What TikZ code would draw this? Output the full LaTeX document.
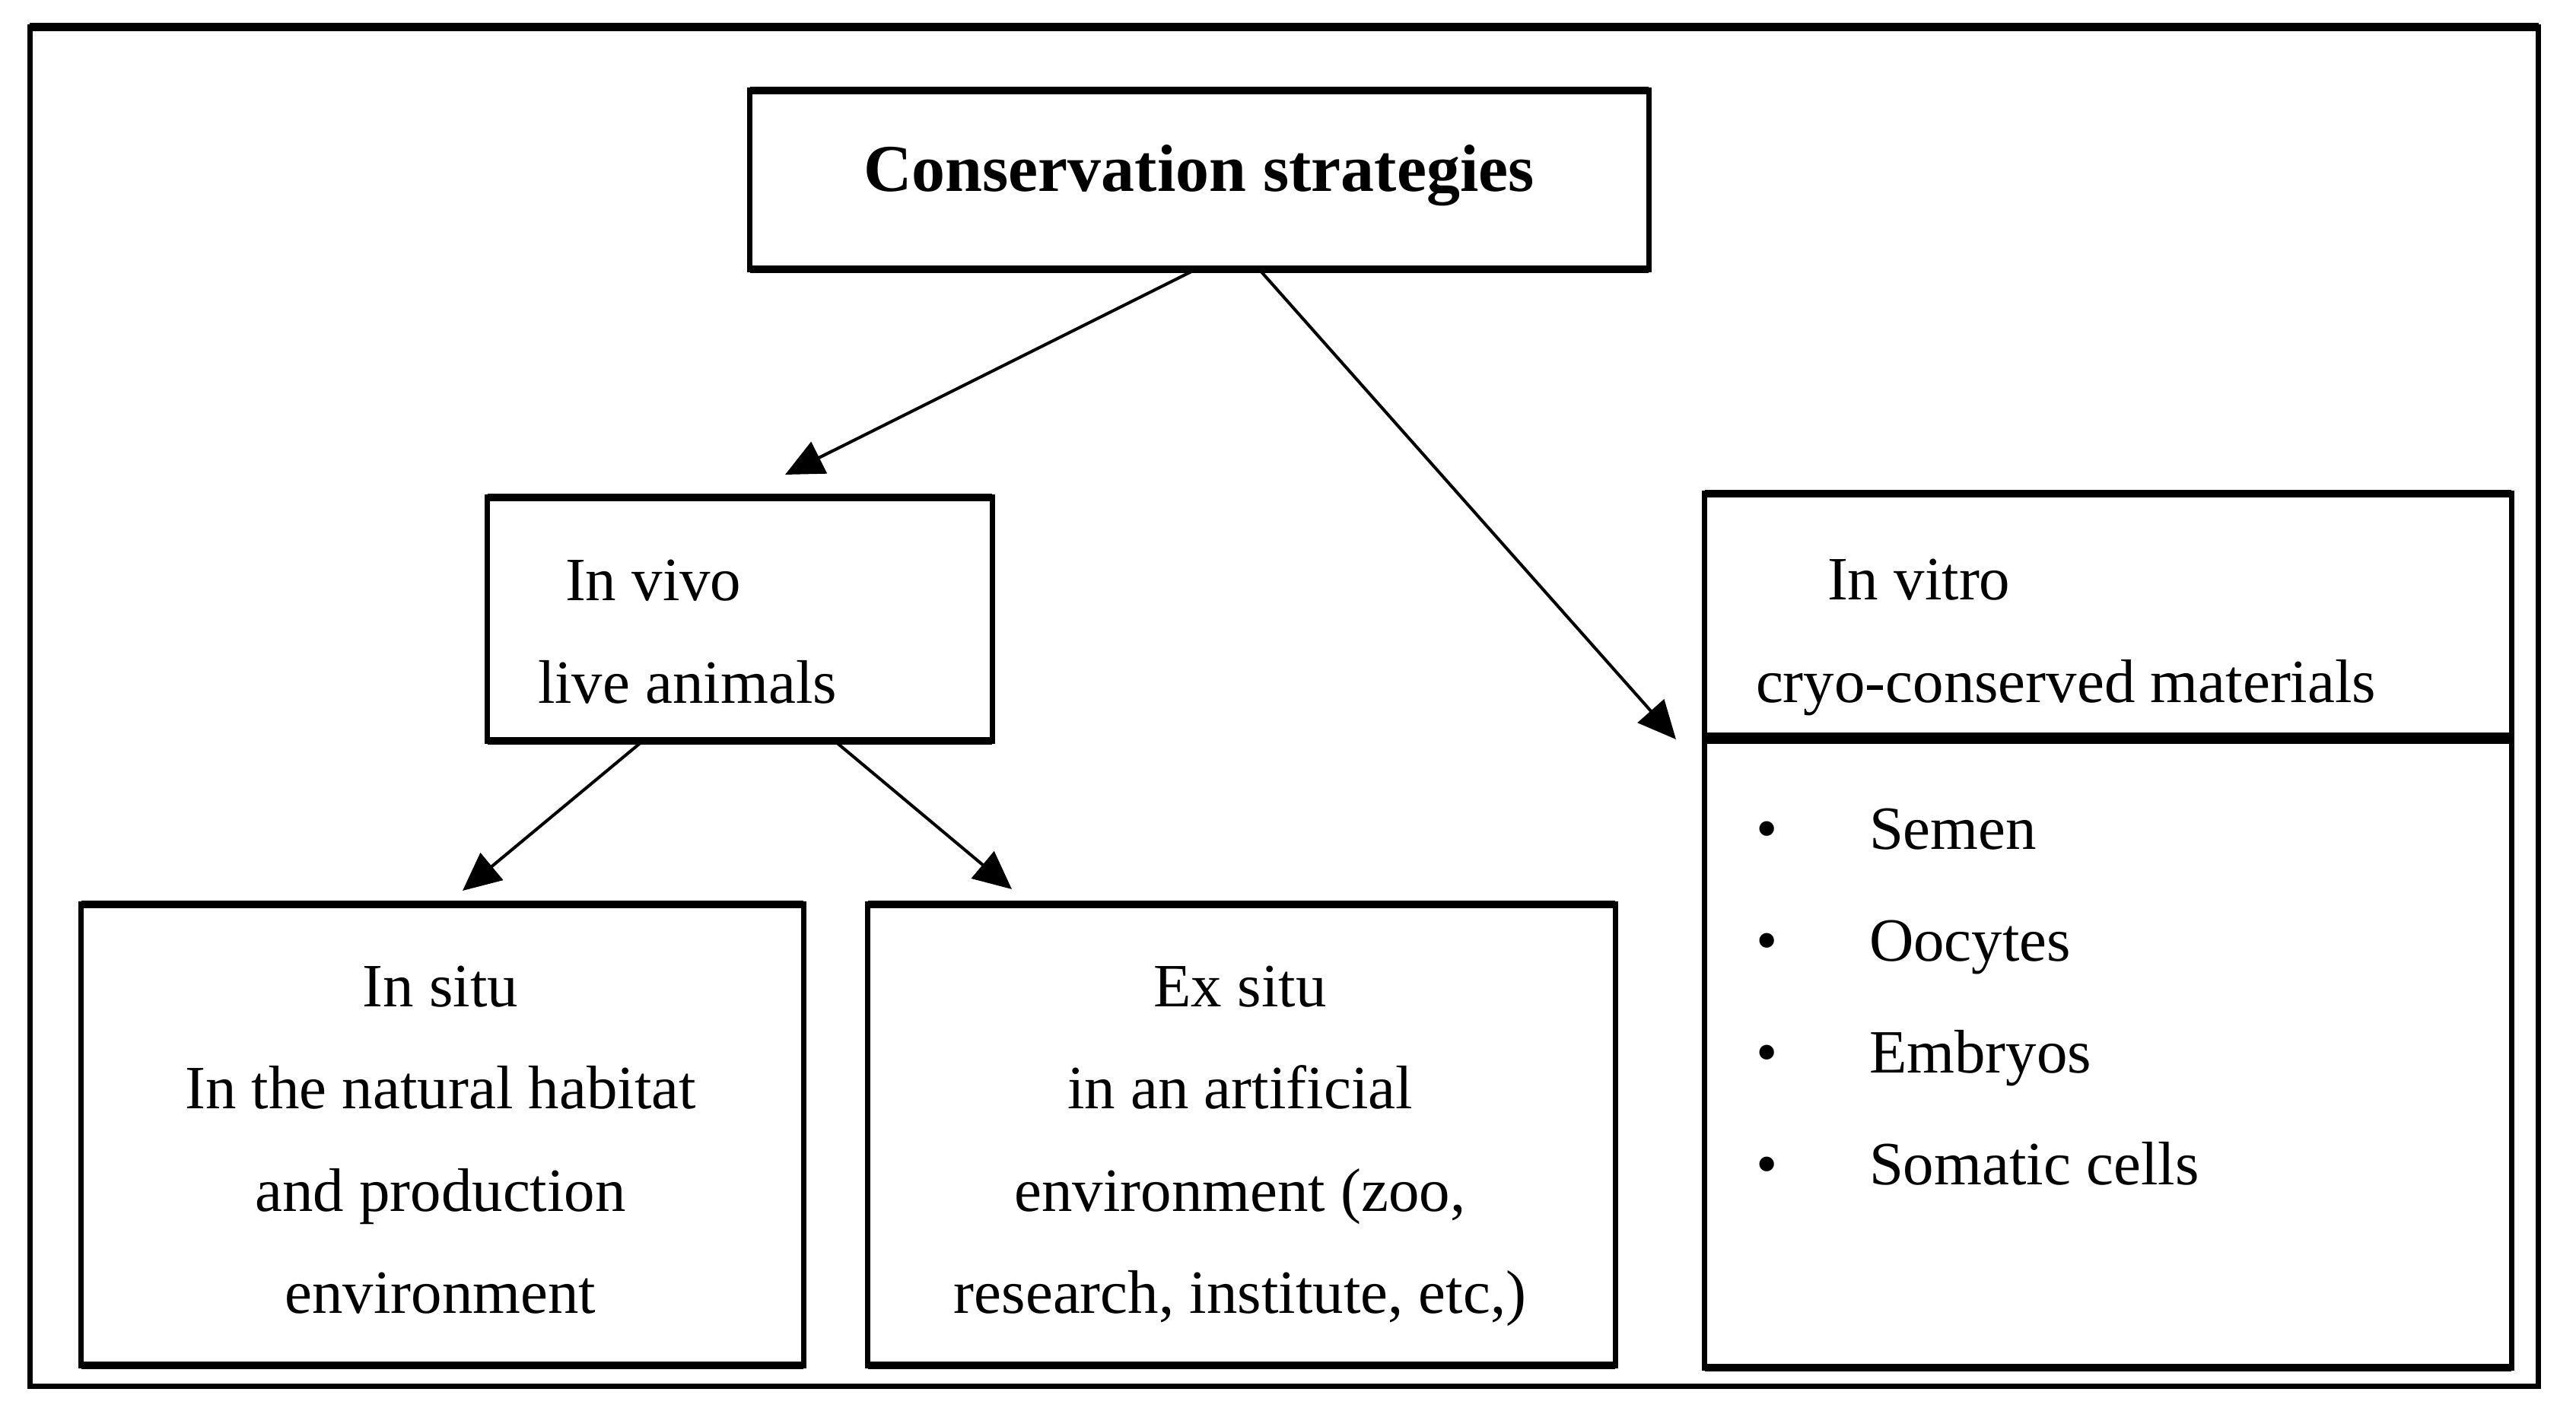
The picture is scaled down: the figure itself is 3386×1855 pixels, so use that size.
\documentclass[tikz,border=0pt]{standalone}
\usepackage{fontspec}
\setmainfont{Liberation Serif}
\usetikzlibrary{arrows.meta}
\begin{document}
\begin{tikzpicture}[x=0.01cm,y=-0.01cm,
  box/.style={draw,line width=2pt,inner sep=0pt,outer sep=0pt,rectangle},
  hedge/.style={line width=2.8pt},
  txt/.style={inner sep=0pt,outer sep=0pt,font=\fontsize{23}{27}\selectfont},
  ttl/.style={inner sep=0pt,outer sep=0pt,font=\fontsize{25}{30}\selectfont\bfseries},
  arr/.style={line width=1.15pt,-{Triangle[length=0.50cm,width=0.46cm]}},
]
\useasboundingbox (0,0) rectangle (3386,1855);
\fill[white] (0,0) rectangle (3386,1855);
% boxes
\node[box,minimum width=32.96cm,minimum height=17.86cm] (frame) at (1688,929) {};
\node[box,minimum width=11.81cm,minimum height=2.35cm] (top) at (1576.5,236.5) {};
\node[box,minimum width=6.63cm,minimum height=3.20cm] (invivo) at (972.5,814) {};
\node[box,minimum width=9.49cm,minimum height=6.06cm] (insitu) at (581.5,1492) {};
\node[box,minimum width=9.82cm,minimum height=6.06cm] (exsitu) at (1632,1492) {};
\node[box,minimum width=10.60cm,minimum height=3.22cm] (invitroA) at (2771,810) {};
\node[box,minimum width=10.60cm,minimum height=8.27cm] (invitroB) at (2771,1384.5) {};
% thicker horizontal edges
\foreach \n in {top,invivo,insitu,exsitu,invitroA,invitroB}{
  \draw[hedge] (\n.north west) -- (\n.north east) (\n.south west) -- (\n.south east);
}
\draw[line width=3pt] (frame.north west) -- (frame.north east);
\draw[line width=4.2pt] (invitroB.north west) -- (invitroB.north east);
% arrow ends
\coordinate (a1) at (1032,624);
\coordinate (a2) at (2203,972);
\coordinate (a3) at (608,1171);
\coordinate (a4) at (1330,1169);
\draw[arr] ([xshift=-0.045cm]top.south) -- (a1);
\draw[arr] ([xshift=0.785cm]top.south) -- (a2);
\draw[arr] ([xshift=-1.275cm]invivo.south) -- (a3);
\draw[arr] ([xshift=1.245cm]invivo.south) -- (a4);
% texts
\node[ttl,anchor=base] (t-title) at (1576,252) {Conservation strategies};
\node[txt,anchor=base west] (t-invivo) at (743,790) {In vivo};
\node[txt,anchor=base west] (t-live) at (707,924) {live animals};
\node[txt,anchor=base west] (t-invitro) at (2402,788) {In vitro};
\node[txt,anchor=base west] (t-cryo) at (2308,923) {cryo-conserved materials};
\node[txt,anchor=base] (b1) at (2323,1116) {•};
\node[txt,anchor=base] (b2) at (2323,1263) {•};
\node[txt,anchor=base] (b3) at (2323,1410) {•};
\node[txt,anchor=base] (b4) at (2323,1557) {•};
\node[txt,anchor=base west] (i1) at (2457,1116) {Semen};
\node[txt,anchor=base west] (i2) at (2457,1263) {Oocytes};
\node[txt,anchor=base west] (i3) at (2457,1410) {Embryos};
\node[txt,anchor=base west] (i4) at (2457,1557) {Somatic cells};
\node[txt,anchor=base] (s1) at (579,1323) {In situ};
\node[txt,anchor=base] (s2) at (579,1457) {In the natural habitat};
\node[txt,anchor=base] (s3) at (579,1592) {and production};
\node[txt,anchor=base] (s4) at (579,1726) {environment};
\node[txt,anchor=base] (e1) at (1630,1323) {Ex situ};
\node[txt,anchor=base] (e2) at (1630,1457) {in an artificial};
\node[txt,anchor=base] (e3) at (1630,1592) {environment (zoo,};
\node[txt,anchor=base] (e4) at (1630,1726) {research, institute, etc,)};
\end{tikzpicture}
\end{document}
